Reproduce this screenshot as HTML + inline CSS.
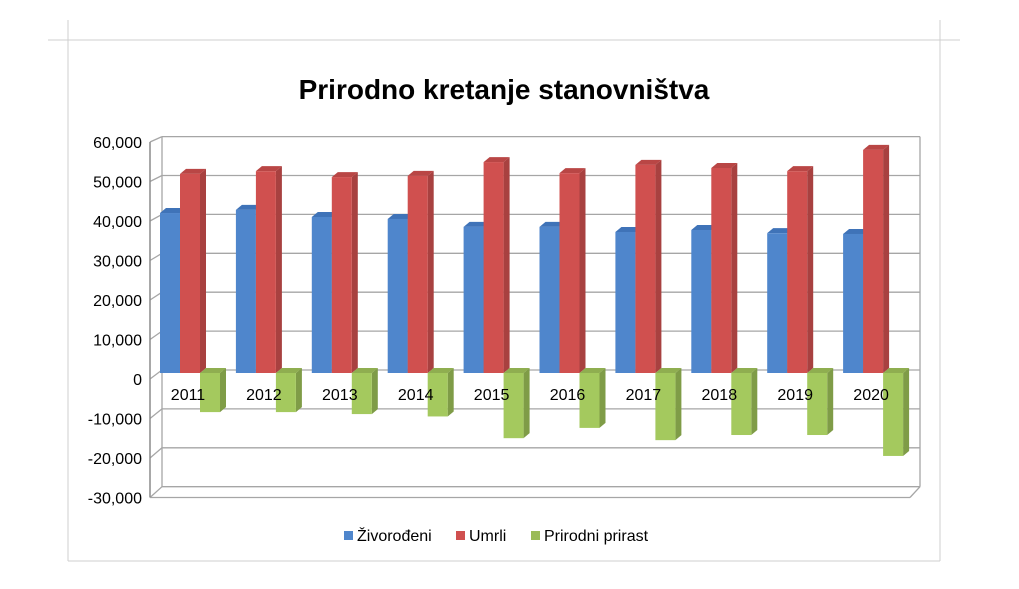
<!DOCTYPE html>
<html><head><meta charset="utf-8"><style>
body{margin:0;background:#fff;}
svg{display:block;font-family:"Liberation Sans","DejaVu Sans",sans-serif;}
</style></head><body>
<svg id="chart" width="1019" height="589" viewBox="0 0 1019 589">
<line x1="48" y1="40" x2="960" y2="40" stroke="#cfcfcf"/>
<line x1="68" y1="20" x2="68" y2="561" stroke="#cfcfcf"/>
<line x1="940" y1="20" x2="940" y2="561" stroke="#cfcfcf"/>
<line x1="68" y1="561" x2="940" y2="561" stroke="#cfcfcf"/>
<text x="504" y="99" text-anchor="middle" font-size="28" font-weight="bold" fill="#000">Prirodno kretanje stanovništva</text>
<g id="grid"></g>
<g id="yaxis"></g>
<g id="bars"></g>
<g id="xlabels"></g>
<g>
<g><rect x="344" y="531" width="9" height="9" fill="#4f86cc"/><text x="357" y="541" font-size="16" fill="#000">Živorođeni</text></g>
<g><rect x="456" y="531" width="9" height="9" fill="#d0504f"/><text x="469" y="541" font-size="16" fill="#000">Umrli</text></g>
<g><rect x="531" y="531" width="9" height="9" fill="#9bbb59"/><text x="544" y="541" font-size="16" fill="#000">Prirodni prirast</text></g>
</g>
</svg>
<script>
const categories=["2011","2012","2013","2014","2015","2016","2017","2018","2019","2020"];
const zivorodjeni=[40500,41300,39500,39000,37000,37000,35700,36200,35400,35200];
const umrli=[50400,51100,49600,49900,53400,50600,52700,51900,51100,56500];
const prirast=[-9900,-9900,-10400,-11000,-16500,-13900,-17000,-15700,-15700,-21000];
const yTicks=[60000,50000,40000,30000,20000,10000,0,-10000,-20000,-30000];
const yTickLabels=["60,000","50,000","40,000","30,000","20,000","10,000","0","-10,000","-20,000","-30,000"];
const NS="http://www.w3.org/2000/svg";
const DX=12,DY=-10;
function yFront(v){return 373-v*0.00395+6;}   // front axis
function yBack(v){return 370-v*0.00389;}       // back wall
function yBar(v){return 373-v*0.00395;}
function xGroup(i){return 160+i*75.9;}
function mk(tag,attrs,parent){const e=document.createElementNS(NS,tag);for(const k in attrs)e.setAttribute(k,attrs[k]);parent.appendChild(e);return e;}
const grid=document.getElementById('grid'),yaxis=document.getElementById('yaxis'),bars=document.getElementById('bars'),xl=document.getElementById('xlabels');
// back wall
const bl=162,br=920;
yTicks.forEach((t,i)=>{
  const yb=yBack(t),yf=yFront(t);
  const g=mk('line',{x1:bl,y1:yb,x2:br,y2:yb,stroke:'#a6a6a6','stroke-width':1.3},grid);
  
  
  mk('line',{x1:150,y1:yf,x2:bl,y2:yb,stroke:'#a6a6a6','stroke-width':1.3},grid);
  const tx=mk('text',{x:142,y:yf+6,'text-anchor':'end','font-size':16,fill:'#000'},yaxis);
  tx.textContent=yTickLabels[i];
  
  
});
mk('line',{x1:bl,y1:yBack(60000),x2:bl,y2:yBack(-30000),stroke:'#a6a6a6','stroke-width':1.3},grid);
mk('line',{x1:br,y1:yBack(60000),x2:br,y2:yBack(-30000),stroke:'#a6a6a6','stroke-width':1.3},grid);
mk('line',{x1:150,y1:yFront(60000),x2:150,y2:yFront(-30000),stroke:'#8c8c8c','stroke-width':1.5},grid);
mk('line',{x1:150,y1:yFront(-30000),x2:br-10,y2:yFront(-30000),stroke:'#a6a6a6','stroke-width':1.3},grid);
mk('line',{x1:br-10,y1:yFront(-30000),x2:br,y2:yBack(-30000),stroke:'#a6a6a6','stroke-width':1.3},grid);
function bar(x,v,front,side,top,name){
  const y0=yBar(0),y1=yBar(v),w=20,d=6;
  const ytop=Math.min(y0,y1),ybot=Math.max(y0,y1);
  const g=mk('g',{},bars);
  
  
  mk('polygon',{points:`${x+w},${ytop} ${x+w+d},${ytop-5} ${x+w+d},${ybot-5} ${x+w},${ybot}`,fill:side},g);
  mk('polygon',{points:`${x},${ytop} ${x+d},${ytop-5} ${x+w+d},${ytop-5} ${x+w},${ytop}`,fill:top},g);
  mk('rect',{x:x,y:ytop,width:w,height:ybot-ytop,fill:front},g);
}
categories.forEach((c,i)=>{
  const x=xGroup(i);
  bar(x,zivorodjeni[i],'#4f86cc','#3e6ca6','#3f73b8','bar-zivorodjeni-'+c);
  bar(x+20,umrli[i],'#d0504f','#a84140','#b94645','bar-umrli-'+c);
  const t=mk('text',{x:x+28,y:400,'text-anchor':'middle','font-size':16,fill:'#000'},xl);
  t.textContent=c;
  
  
  bar(x+40,prirast[i],'#a4c95e','#7f9c47','#8fae50','bar-prirast-'+c);
});
</script>
</body></html>
